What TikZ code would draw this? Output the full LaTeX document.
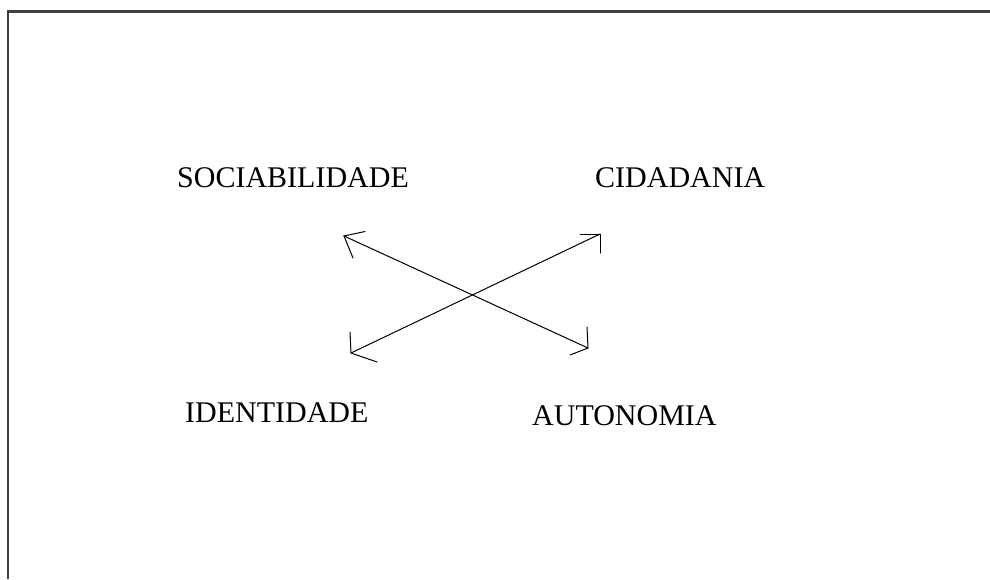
\documentclass[tikz,border=0pt]{standalone}
\usepackage{fontspec}
\setmainfont{Liberation Serif}
\begin{document}
\begin{tikzpicture}[x=1pt,y=-1pt,
  label/.style={anchor=base west,inner sep=0pt,font=\fontsize{30}{36}\selectfont},
  frame/.style={draw=black!75,line width=2.2pt},
  link/.style={draw=black,line width=1pt,line cap=round,line join=miter}]
\useasboundingbox (0,0) rectangle (990,579);
\fill[white] (0,0) rectangle (990,579);

% frame: top and left edges only
\coordinate (ftl) at (8,11.5);
\coordinate (ftr) at (990,11.5);
\coordinate (fbl) at (8,579);
\draw[frame] (fbl) -- (ftl) -- (ftr);

% labels
\node[label] (soc) at (177,187) {SOCIABILIDADE};
\node[label] (cid) at (595,187) {CIDADANIA};
\node[label] (ide) at (185,422) {IDENTIDADE};
\node[label] (aut) at (532,425) {AUTONOMIA};

% first double arrow: sociabilidade <-> autonomia
\coordinate (a1) at (344,236);
\coordinate (a2) at (588,348);
\coordinate (a1u) at (365,231.5);
\coordinate (a1d) at (353,258);
\coordinate (a2u) at (587,327);
\coordinate (a2d) at (570,355);
\draw[link] (a1) -- (a2);
\draw[link] (a1u) -- (a1) -- (a1d);
\draw[link] (a2u) -- (a2) -- (a2d);

% second double arrow: identidade <-> cidadania
\coordinate (b1) at (351,353);
\coordinate (b2) at (600,234);
\coordinate (b1u) at (350,332);
\coordinate (b1d) at (377,362);
\coordinate (b2l) at (580,234);
\coordinate (b2d) at (600,253);
\draw[link] (b1) -- (b2);
\draw[link] (b1u) -- (b1) -- (b1d);
\draw[link] (b2l) -- (b2) -- (b2d);
\end{tikzpicture}
\end{document}
